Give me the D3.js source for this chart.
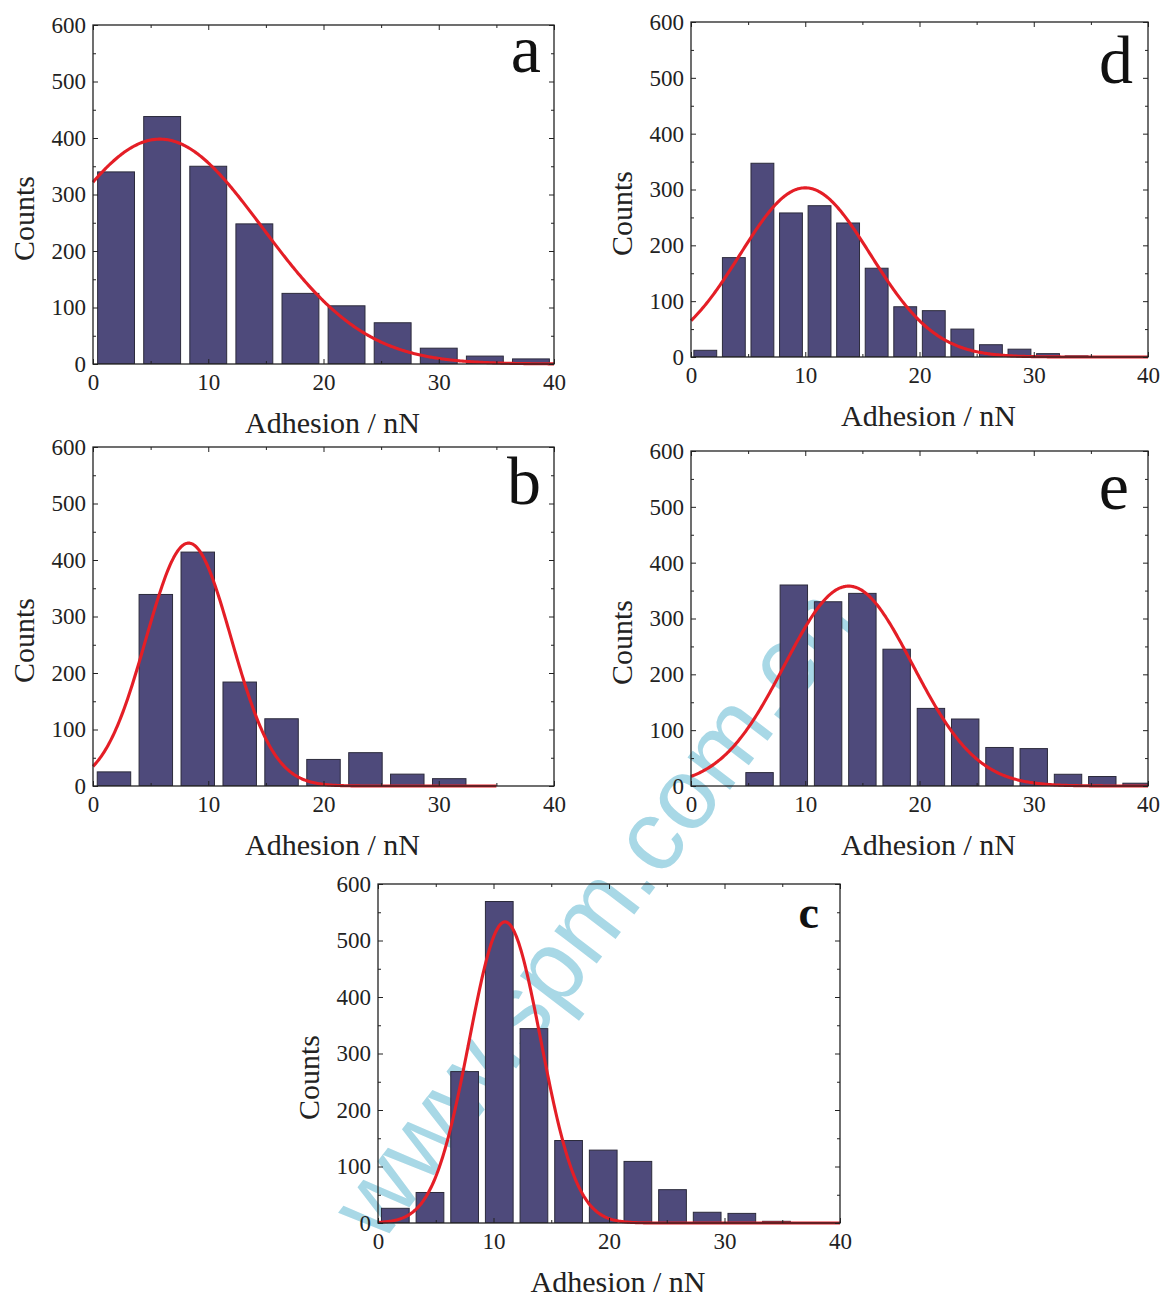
<!DOCTYPE html>
<html>
<head>
<meta charset="utf-8">
<script src="https://cdn.jsdelivr.net/npm/d3@7"></script>
<style>
  body { margin: 0; background: #fff; }
  svg { display: block; }
</style>
</head>
<body>
<div id="chart"></div>
<script>
// panel letters, in drawing order
const panelNames = ["a", "b", "c", "d", "e"];

// bin centres (nN) and counts
const binsA = [2, 6, 10, 14, 18, 22, 26, 30, 34, 38];
const countsA = [340, 438, 350, 248, 125, 103, 73, 28, 14, 9];

const binsB = [1.82, 5.45, 9.09, 12.73, 16.36, 20, 23.64, 27.27, 30.91];
const countsB = [25, 339, 414, 184, 119, 47, 59, 21, 13];

const binsC = [1.5, 4.5, 7.5, 10.5, 13.5, 16.5, 19.5, 22.5, 25.5, 28.5, 31.5, 34.5];
const countsC = [26, 54, 268, 569, 344, 146, 129, 109, 59, 19, 17, 3];

const binsD = [1.25, 3.75, 6.25, 8.75, 11.25, 13.75, 16.25, 18.75, 21.25, 23.75, 26.25, 28.75, 31.25, 33.75];
const countsD = [12, 178, 347, 258, 271, 240, 159, 90, 83, 50, 22, 14, 6, 2];

const binsE = [6, 9, 12, 15, 18, 21, 24, 27, 30, 33, 36, 39];
const countsE = [24, 360, 330, 345, 245, 139, 120, 69, 67, 21, 17, 5];

// gaussian fit of each panel (centre, width, height) and where the red curve stops
const fitCenter = [5.8, 8.3, 11.0, 10.0, 13.8];
const fitSigma = [8.9, 3.7, 3.1, 5.7, 5.6];
const fitHeight = [398, 430, 533, 303, 358];
const fitEnd = [40, 35, 40, 40, 40];

const xTicks = [0, 10, 20, 30, 40];
const xMinor = [5, 15, 25, 35];
const yTicks = [0, 100, 200, 300, 400, 500, 600];
const yMinor = [50, 150, 250, 350, 450, 550];
const xLabel = "Adhesion / nN";
const yLabel = "Counts";
const watermark = "www.spm.com.cn";

const allBins = [binsA, binsB, binsC, binsD, binsE];
const allCounts = [countsA, countsB, countsC, countsD, countsE];

// where each panel sits on the page
const layout = [
  { left: 93, right: 554, top: 25, bottom: 364, letterX: 541, letterY: 72, letterSize: 68, bold: false },
  { left: 93, right: 554, top: 447, bottom: 786, letterX: 541, letterY: 504, letterSize: 68, bold: false },
  { left: 378, right: 840, top: 884, bottom: 1223, letterX: 819, letterY: 928, letterSize: 46, bold: true },
  { left: 691, right: 1148, top: 22, bottom: 357, letterX: 1133, letterY: 83, letterSize: 68, bold: false },
  { left: 691, right: 1148, top: 451, bottom: 786, letterX: 1129, letterY: 509, letterSize: 68, bold: false },
];

var width = 1161;
var height = 1297;
var serif = '"Liberation Serif", "Times New Roman", serif';
var barFill = "#4e4a7b";
var barStroke = "#2c2b3c";
var fitColor = "#e41e26";
var ink = "#222";

var svg = d3
  .select("#chart")
  .append("svg")
  .attr("width", width)
  .attr("height", height)
  .style("background", "#fff");

// light blue watermark sits behind everything
svg
  .append("text")
  .attr("transform", "translate(592,912) rotate(-52.5)")
  .attr("text-anchor", "middle")
  .attr("dominant-baseline", "central")
  .style("font-family", '"Liberation Sans", Arial, sans-serif')
  .style("font-size", "101px")
  .style("fill", "#a8d8e6")
  .text(watermark);

const drawPanel = (i) => {
  var L = layout[i];
  var bins = allBins[i];
  var counts = allCounts[i];
  var binWidth = bins[1] - bins[0];
  var barWidth = binWidth * 0.8;

  var x = d3.scaleLinear().domain([0, 40]).range([L.left, L.right]);
  var y = d3.scaleLinear().domain([0, 600]).range([L.bottom, L.top]);

  var g = svg.append("g");

  g.append("clipPath")
    .attr("id", "clip" + i)
    .append("rect")
    .attr("x", L.left)
    .attr("y", L.top)
    .attr("width", L.right - L.left)
    .attr("height", L.bottom - L.top);

  // bars
  g.append("g")
    .attr("clip-path", "url(#clip" + i + ")")
    .selectAll("rect")
    .data(bins)
    .enter()
    .append("rect")
    .attr("x", function (d) {
      return x(d - barWidth / 2);
    })
    .attr("width", function (d) {
      return x(d + barWidth / 2) - x(d - barWidth / 2);
    })
    .attr("y", function (d, j) {
      return y(counts[j]);
    })
    .attr("height", function (d, j) {
      return L.bottom - y(counts[j]);
    })
    .style("fill", barFill)
    .attr("stroke", barStroke)
    .attr("stroke-width", 1);

  // gaussian fit
  var gauss = function (v) {
    return fitHeight[i] * Math.exp(-Math.pow(v - fitCenter[i], 2) / (2 * fitSigma[i] * fitSigma[i]));
  };
  var line = d3
    .line()
    .x(function (d) {
      return x(d);
    })
    .y(function (d) {
      return y(gauss(d));
    });
  g.append("path")
    .datum(d3.range(0, fitEnd[i] + 0.001, 0.1))
    .attr("d", line)
    .attr("fill", "none")
    .attr("stroke", fitColor)
    .attr("stroke-width", 3.1)
    .attr("stroke-linejoin", "round");

  // axes, ticks pointing inward on all four sides
  var styleAxis = function (sel) {
    sel.select(".domain").remove();
    sel.style("color", ink);
    sel.selectAll("text")
      .style("font-family", serif)
      .style("font-size", "23px")
      .style("fill", ink);
  };

  g.append("g")
    .attr("transform", "translate(0," + L.bottom + ")")
    .call(d3.axisBottom(x).tickValues(xTicks).tickSizeInner(-5).tickSizeOuter(0).tickPadding(10).tickFormat(d3.format("d")))
    .call(styleAxis);
  g.append("g")
    .attr("transform", "translate(0," + L.bottom + ")")
    .call(d3.axisBottom(x).tickValues(xMinor).tickSizeInner(-3).tickSizeOuter(0).tickFormat(""))
    .call(styleAxis);
  g.append("g")
    .attr("transform", "translate(0," + L.top + ")")
    .call(d3.axisTop(x).tickValues(xTicks).tickSizeInner(-5).tickSizeOuter(0).tickFormat(""))
    .call(styleAxis);
  g.append("g")
    .attr("transform", "translate(0," + L.top + ")")
    .call(d3.axisTop(x).tickValues(xMinor).tickSizeInner(-3).tickSizeOuter(0).tickFormat(""))
    .call(styleAxis);

  g.append("g")
    .attr("transform", "translate(" + L.left + ",0)")
    .call(d3.axisLeft(y).tickValues(yTicks).tickSizeInner(-5).tickSizeOuter(0).tickPadding(7).tickFormat(d3.format("d")))
    .call(styleAxis);
  g.append("g")
    .attr("transform", "translate(" + L.left + ",0)")
    .call(d3.axisLeft(y).tickValues(yMinor).tickSizeInner(-3).tickSizeOuter(0).tickFormat(""))
    .call(styleAxis);
  g.append("g")
    .attr("transform", "translate(" + L.right + ",0)")
    .call(d3.axisRight(y).tickValues(yTicks).tickSizeInner(-5).tickSizeOuter(0).tickFormat(""))
    .call(styleAxis);
  g.append("g")
    .attr("transform", "translate(" + L.right + ",0)")
    .call(d3.axisRight(y).tickValues(yMinor).tickSizeInner(-3).tickSizeOuter(0).tickFormat(""))
    .call(styleAxis);

  // frame
  g.append("rect")
    .attr("x", L.left)
    .attr("y", L.top)
    .attr("width", L.right - L.left)
    .attr("height", L.bottom - L.top)
    .attr("fill", "none")
    .attr("stroke", ink)
    .attr("stroke-width", 1.3);

  // axis titles
  g.append("text")
    .attr("x", (L.left + L.right) / 2 + 9)
    .attr("y", L.bottom + 69)
    .attr("text-anchor", "middle")
    .style("font-family", serif)
    .style("font-size", "30px")
    .style("fill", ink)
    .text(xLabel);

  g.append("text")
    .attr("transform", "translate(" + (L.left - 59) + "," + ((L.top + L.bottom) / 2 + 24) + ") rotate(-90)")
    .attr("text-anchor", "middle")
    .style("font-family", serif)
    .style("font-size", "30px")
    .style("fill", ink)
    .text(yLabel);

  // panel letter
  g.append("text")
    .attr("x", L.letterX)
    .attr("y", L.letterY)
    .attr("text-anchor", "end")
    .style("font-family", serif)
    .style("font-size", L.letterSize + "px")
    .style("font-weight", L.bold ? "bold" : "normal")
    .style("fill", "#111")
    .text(panelNames[i]);
};

panelNames.forEach(function (d, i) {
  drawPanel(i);
});
</script>
</body>
</html>
